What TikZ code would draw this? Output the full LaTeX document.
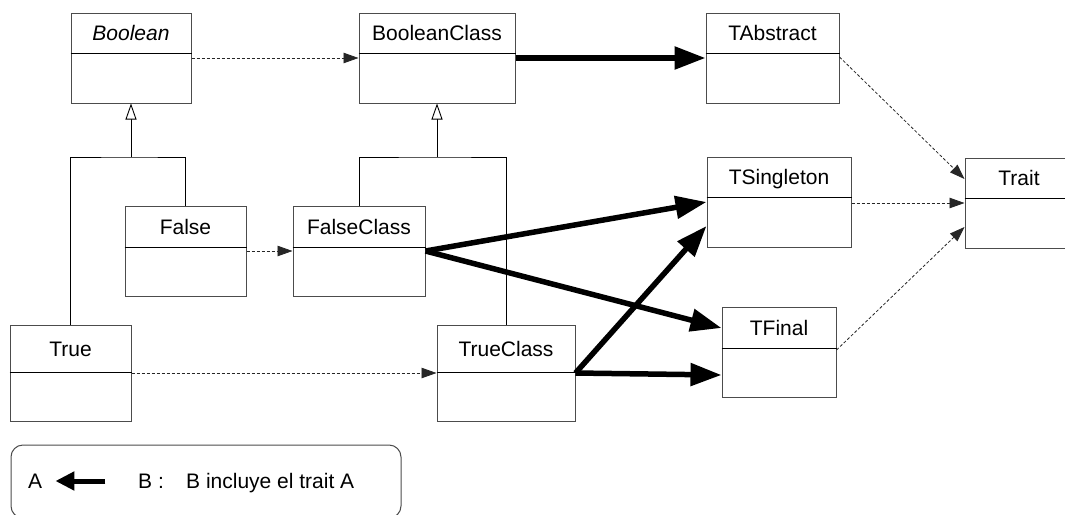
\documentclass[tikz,border=0pt]{standalone}
\usepackage{fontspec}
\setmainfont{Liberation Sans}
\usetikzlibrary{arrows.meta}

% One UML class: name, left, top, right, bottom, divider y, label
\newcommand\umlclass[7]{%
  \node[classbox, minimum width={(#4-#2)*1pt}, minimum height={(#5-#3)*1pt}]
    (#1) at ({(#2+#4)/2},{(#3+#5)/2}) {};
  \draw[divider] (#1.west |- 0,#6) -- (#1.east |- 0,#6);
  \node[classname] (#1-name) at ({(#2+#4)/2},{(#3+#6)/2}) {#7};
}

\begin{document}
\begin{tikzpicture}[x=1pt, y=-1pt,
  every node/.style={font=\fontsize{21pt}{25pt}\selectfont},
  classbox/.style={draw=black!70, line width=1pt, inner sep=0pt, fill=white},
  divider/.style={draw=black, line width=0.9pt},
  classname/.style={inner sep=0pt, text height=15pt, text depth=0pt},
  dep/.style={draw=black!85, line width=0.8pt, dash pattern=on 3pt off 2pt,
              -{Triangle[length=15pt, width=10.5pt]}},
  uses/.style={draw=black, line width=5.5pt,
              -{Triangle[length=31pt, width=22pt]}},
  tree/.style={draw=black, line width=0.9pt},
  gen/.style={draw=black, line width=0.9pt,
              -{Triangle[open, length=16pt, width=11pt, fill=white]}},
  legendtxt/.style={inner sep=0pt, anchor=west, text height=15pt, text depth=0pt}
]
\useasboundingbox (0,0) rectangle (1065,514);

% classes
\umlclass{Boolean}{71}{13}{191}{103}{53}{\itshape Boolean}
\umlclass{BooleanClass}{359}{13}{515}{103}{53}{BooleanClass}
\umlclass{TAbstract}{706}{13}{839}{103}{53}{TAbstract}
\umlclass{TSingleton}{707}{157}{851}{247}{197}{TSingleton}
\umlclass{Trait}{965}{158}{1073}{248}{198}{Trait}
\umlclass{False}{125}{206}{246}{296}{247}{False}
\umlclass{FalseClass}{293}{206}{425}{296}{247}{FalseClass}
\umlclass{True}{10}{325}{131}{421}{372}{True}
\umlclass{TrueClass}{437}{325}{575}{421}{372}{TrueClass}
\umlclass{TFinal}{722}{307}{836}{397}{348}{TFinal}

% inheritance trees
\coordinate (gB) at (Boolean.south |- 0,157);
\coordinate (gC) at (BooleanClass.south |- 0,157);
\draw[tree] (True.north) |- (gB) -| (False.north);
\draw[gen] (gB) -- (Boolean.south);
\draw[tree] (FalseClass.north) |- (gC) -| (TrueClass.north);
\draw[gen] (gC) -- (BooleanClass.south);

% dependencies
\draw[dep] (Boolean.east |- 0,58) -- (BooleanClass.west |- 0,58);
\draw[dep] (False.east |- 0,251) -- (FalseClass.west |- 0,251);
\draw[dep] (True.east |- 0,373) -- (TrueClass.west |- 0,373);
\draw[dep] (TAbstract.east |- 0,57) -- (Trait.west |- 0,179);
\draw[dep] (TSingleton.east |- 0,203) -- (Trait.west |- 0,203);
\draw[dep] (TFinal.east |- 0,350) -- (Trait.west |- 0,227);

% trait inclusion
\draw[uses] (BooleanClass.east |- 0,58) -- (TAbstract.west |- 0,58);
\draw[uses] (FalseClass.east |- 0,251) -- (TSingleton.west |- 0,202);
\draw[uses] (FalseClass.east |- 0,251) -- (TFinal.west |- 0,328);
\draw[uses] (TrueClass.east |- 0,373) -- (TSingleton.west |- 0,226);
\draw[uses] (TrueClass.east |- 0,373) -- (TFinal.west |- 0,375);

% legend
\node[draw=black!70, line width=1pt, rounded corners=12pt, inner sep=0pt,
      minimum width=390pt, minimum height=73pt] (legend) at (206,481.5) {};
\node[legendtxt] (legA) at (28,481) {A};
\node[legendtxt] (legB) at (138,481) {B :};
\node[legendtxt] (legText) at (186,481) {B incluye el trait A};
\draw[draw=black, line width=5pt, -{Triangle[length=19pt, width=18pt]}]
  ([xshift=63pt]legA.east) -- ([xshift=13pt]legA.east);
\end{tikzpicture}
\end{document}
